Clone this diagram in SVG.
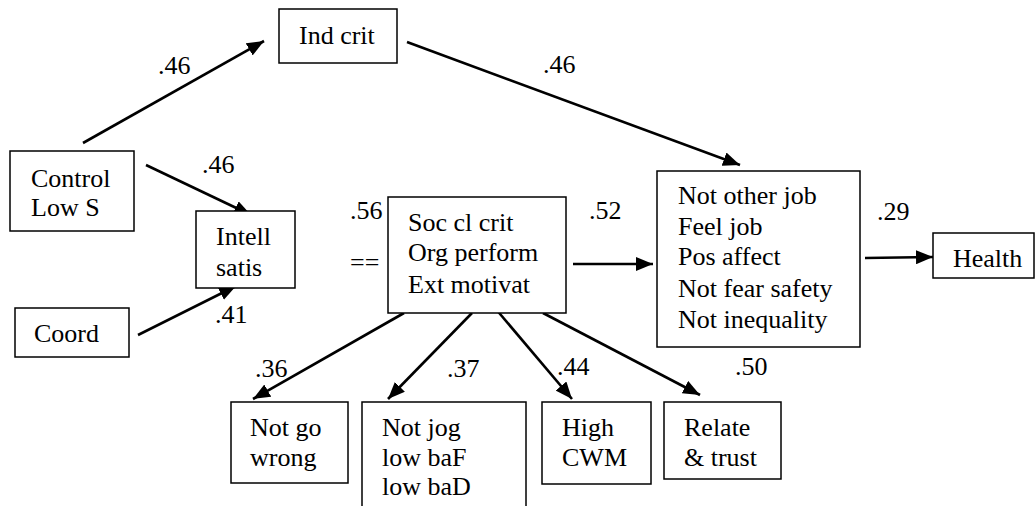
<svg xmlns="http://www.w3.org/2000/svg" width="1035" height="506" viewBox="0 0 1035 506" font-family="Liberation Serif" font-size="26">
<style>
.box{fill:#fff;stroke:#000;stroke-width:1.5}
.c{stroke:#000;stroke-width:2.6;fill:none;marker-end:url(#ah)}
</style>
<defs>
<marker id="ah" markerUnits="userSpaceOnUse" markerWidth="18" markerHeight="14" refX="17" refY="7" orient="auto">
<path d="M0,0 L17,7 L0,14 z" fill="#000"/>
</marker>
</defs>
<rect width="1035" height="506" fill="#fff"/>
<g id="connectors">
<line class="c" x1="83" y1="143" x2="264" y2="41"/>
<line class="c" x1="407" y1="42" x2="740" y2="165"/>
<line class="c" x1="146" y1="165" x2="251" y2="215"/>
<line class="c" x1="138" y1="335" x2="236" y2="286"/>
<line class="c" x1="573" y1="264" x2="653" y2="264"/>
<line class="c" x1="865" y1="258" x2="933" y2="257"/>
<line class="c" x1="404" y1="313" x2="253" y2="399"/>
<line class="c" x1="472" y1="313" x2="388" y2="399"/>
<line class="c" x1="495" y1="308" x2="572" y2="399"/>
<line class="c" x1="543" y1="313" x2="700" y2="395"/>
</g>
<g id="labels" font-family="Liberation Serif" font-size="26">
<text x="158" y="74">.46</text>
<text x="543" y="73">.46</text>
<text x="202" y="173">.46</text>
<text x="215" y="323">.41</text>
<text x="350" y="219">.56</text>
<text x="350" y="271">==</text>
<text x="589" y="219">.52</text>
<text x="877" y="220">.29</text>
<text x="255" y="377">.36</text>
<text x="447" y="377">.37</text>
<text x="557" y="375">.44</text>
<text x="735" y="375">.50</text>
</g>
<g id="ind-crit" font-family="Liberation Serif"><rect class="box" x="279" y="9" width="118" height="54"/><text x="299" y="44">Ind crit</text></g>
<g id="control" font-family="Liberation Serif"><rect class="box" x="10" y="151" width="124" height="80"/><text x="31" y="187">Control</text><text x="31" y="216">Low S</text></g>
<g id="intell" font-family="Liberation Serif"><rect class="box" x="196" y="211" width="99" height="77"/><text x="216" y="245">Intell</text><text x="216" y="276">satis</text></g>
<g id="coord" font-family="Liberation Serif"><rect class="box" x="15" y="308" width="114" height="49"/><text x="34" y="342">Coord</text></g>
<g id="soc" font-family="Liberation Serif"><rect class="box" x="388" y="197" width="178" height="116"/><text x="408" y="231">Soc cl crit</text><text x="408" y="261">Org perform</text><text x="408" y="293">Ext motivat</text></g>
<g id="notother" font-family="Liberation Serif"><rect class="box" x="657" y="171" width="203" height="176"/><text x="678" y="204">Not other job</text><text x="678" y="235">Feel job</text><text x="678" y="265">Pos affect</text><text x="678" y="297">Not fear safety</text><text x="678" y="328">Not inequality</text></g>
<g id="health" font-family="Liberation Serif"><rect class="box" x="933" y="233" width="101" height="45"/><text x="953" y="267">Health</text></g>
<g id="notgo" font-family="Liberation Serif"><rect class="box" x="231" y="402" width="117" height="81"/><text x="250" y="436">Not go</text><text x="250" y="466">wrong</text></g>
<g id="notjog" font-family="Liberation Serif"><rect class="box" x="362" y="402" width="164" height="110"/><text x="382" y="436">Not jog</text><text x="382" y="466">low baF</text><text x="382" y="495">low baD</text></g>
<g id="cwm" font-family="Liberation Serif"><rect class="box" x="542" y="402" width="109" height="82"/><text x="562" y="436">High</text><text x="562" y="466">CWM</text></g>
<g id="relate" font-family="Liberation Serif"><rect class="box" x="664" y="402" width="117" height="77"/><text x="684" y="436">Relate</text><text x="684" y="466">&amp; trust</text></g>
</svg>
